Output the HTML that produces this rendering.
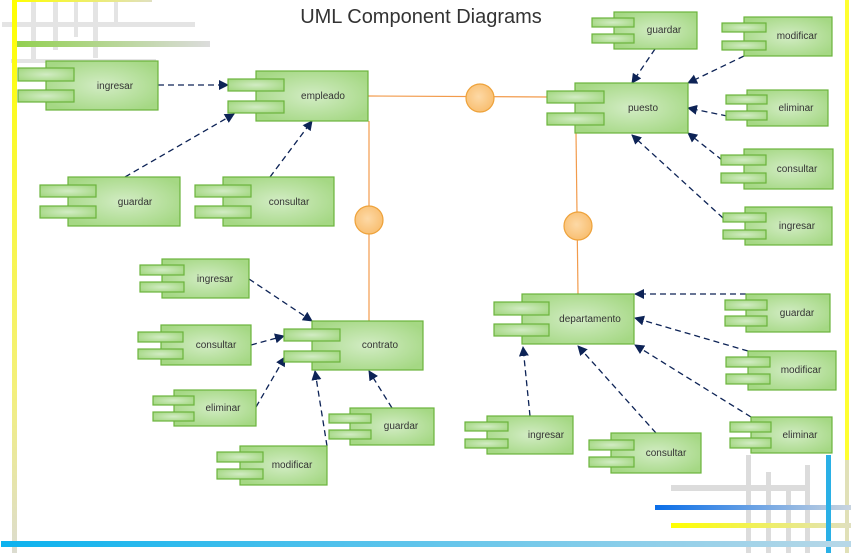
<!DOCTYPE html>
<html><head><meta charset="utf-8"><style>
html,body{margin:0;padding:0;background:#fff;}
svg{display:block;}
text{font-family:"Liberation Sans",sans-serif;}
</style></head><body>
<svg width="851" height="553" viewBox="0 0 851 553" xmlns="http://www.w3.org/2000/svg">
<defs>
<radialGradient id="g" cx="50%" cy="50%" r="60%">
<stop offset="0" stop-color="#d2ecc4"/><stop offset="1" stop-color="#a5d884"/></radialGradient>
<radialGradient id="o" cx="45%" cy="45%" r="60%">
<stop offset="0" stop-color="#fdd9a6"/><stop offset="1" stop-color="#f8bd6e"/></radialGradient>
<linearGradient id="yl" x1="0" y1="0" x2="0" y2="1"><stop offset="0" stop-color="#ffff00"/><stop offset="0.7" stop-color="#f4f07a"/><stop offset="1" stop-color="#dcdcd0"/></linearGradient>
<linearGradient id="bl" x1="0" y1="0" x2="1" y2="0"><stop offset="0" stop-color="#0cb2ee"/><stop offset="1" stop-color="#b8d8e8"/></linearGradient>
<linearGradient id="gr" x1="0" y1="0" x2="1" y2="0"><stop offset="0" stop-color="#92d050"/><stop offset="1" stop-color="#dcdcdc"/></linearGradient>
<linearGradient id="b2" x1="0" y1="0" x2="1" y2="0"><stop offset="0" stop-color="#0a6ee8"/><stop offset="1" stop-color="#c8d4e0"/></linearGradient>
<linearGradient id="y2" x1="0" y1="0" x2="1" y2="0"><stop offset="0" stop-color="#ffff00"/><stop offset="1" stop-color="#e0e0c0"/></linearGradient>
<marker id="a" markerWidth="10" markerHeight="10" refX="9" refY="5" orient="auto" markerUnits="userSpaceOnUse"><path d="M0,0 L10,5 L0,10 z" fill="#0d2356"/></marker>
</defs>
<!-- decorations top-left -->
<g fill="#e4e4e4">
<rect x="31" y="0" width="5" height="62"/><rect x="53" y="0" width="5" height="50"/><rect x="74" y="0" width="4" height="37"/><rect x="93" y="0" width="5" height="58"/><rect x="114" y="0" width="4" height="22"/>
<rect x="2" y="22" width="193" height="5"/><rect x="11" y="59" width="145" height="4"/>
</g>
<rect x="16" y="41" width="194" height="6" fill="url(#gr)"/>
<rect x="12" y="0" width="140" height="2" fill="url(#y2)"/>
<rect x="12" y="0" width="5" height="553" fill="url(#yl)"/>
<rect x="845" y="0" width="4" height="460" fill="#ffff30"/>
<rect x="845" y="460" width="4" height="93" fill="#e0e0b8"/>
<!-- bottom-right decorations -->
<g fill="#dcdcdc">
<rect x="746" y="455" width="5" height="98"/><rect x="766" y="472" width="5" height="81"/><rect x="786" y="486" width="5" height="67"/><rect x="805" y="465" width="5" height="88"/>
<rect x="671" y="485" width="135" height="6"/>
</g>
<rect x="655" y="505" width="196" height="5" fill="url(#b2)"/>
<rect x="671" y="523" width="180" height="5" fill="url(#y2)"/>
<rect x="826" y="455" width="5" height="98" fill="#2ab0e6"/>
<rect x="1" y="541" width="850" height="6" fill="url(#bl)"/>
<text x="421" y="23" font-size="20" fill="#333" text-anchor="middle">UML Component Diagrams</text>
<!-- orange connectors -->
<g stroke="#f29b4c" stroke-width="1.2" fill="none">
<line x1="368" y1="96" x2="548" y2="97"/>
<line x1="369" y1="121" x2="369" y2="321"/>
<line x1="576" y1="133" x2="578" y2="294"/>
</g>
<g fill="url(#o)" stroke="#eea23a" stroke-width="1.2">
<circle cx="480" cy="98" r="14"/><circle cx="369" cy="220" r="14"/><circle cx="578" cy="226" r="14"/>
</g>
<!-- arrows -->
<g stroke="#0d2356" stroke-width="1.3" stroke-dasharray="6,4" fill="none" marker-end="url(#a)">
<line x1="158" y1="85" x2="228" y2="85"/>
<line x1="125" y1="177" x2="234" y2="114"/>
<line x1="270" y1="177" x2="312" y2="121"/>
<line x1="655" y1="49" x2="632" y2="83"/>
<line x1="744" y1="56" x2="688" y2="83"/>
<line x1="727" y1="116" x2="688" y2="108"/>
<line x1="722" y1="160" x2="688" y2="133"/>
<line x1="723" y1="218" x2="632" y2="135"/>
<line x1="249" y1="279" x2="312" y2="321"/>
<line x1="251" y1="345" x2="284" y2="336"/>
<line x1="256" y1="407" x2="285" y2="357"/>
<line x1="327" y1="446" x2="315" y2="371"/>
<line x1="392" y1="408" x2="369" y2="371"/>
<line x1="746" y1="294" x2="635" y2="294"/>
<line x1="748" y1="351" x2="635" y2="318"/>
<line x1="751" y1="417" x2="635" y2="345"/>
<line x1="656" y1="433" x2="578" y2="346"/>
<line x1="530" y1="416" x2="523" y2="347"/>
</g>
<!-- components -->
<g fill="url(#g)" stroke="#6bb33c" stroke-width="1.2" font-size="10" >
<!-- empleado side -->
<rect x="46" y="61" width="112" height="49"/><rect x="18" y="68" width="56" height="13"/><rect x="18" y="90" width="56" height="12"/>
<rect x="256" y="71" width="112" height="50"/><rect x="228" y="79" width="56" height="12"/><rect x="228" y="101" width="56" height="12"/>
<rect x="68" y="177" width="112" height="49"/><rect x="40" y="185" width="56" height="12"/><rect x="40" y="206" width="56" height="12"/>
<rect x="223" y="177" width="111" height="49"/><rect x="195" y="185" width="56" height="12"/><rect x="195" y="206" width="56" height="12"/>
<!-- puesto side -->
<rect x="575" y="83" width="113" height="50"/><rect x="547" y="91" width="57" height="12"/><rect x="547" y="113" width="57" height="12"/>
<rect x="614" y="12" width="83" height="37"/><rect x="592" y="18" width="42" height="9"/><rect x="592" y="34" width="42" height="9"/>
<rect x="744" y="17" width="88" height="39"/><rect x="722" y="23" width="44" height="9"/><rect x="722" y="41" width="44" height="9"/>
<rect x="747" y="90" width="81" height="36"/><rect x="726" y="95" width="41" height="9"/><rect x="726" y="111" width="41" height="9"/>
<rect x="744" y="149" width="89" height="40"/><rect x="721" y="155" width="45" height="10"/><rect x="721" y="173" width="45" height="10"/>
<rect x="745" y="207" width="87" height="38"/><rect x="723" y="213" width="43" height="9"/><rect x="723" y="230" width="43" height="9"/>
<!-- contrato side -->
<rect x="312" y="321" width="111" height="49"/><rect x="284" y="329" width="56" height="12"/><rect x="284" y="351" width="56" height="11"/>
<rect x="162" y="259" width="87" height="39"/><rect x="140" y="265" width="44" height="10"/><rect x="140" y="282" width="44" height="10"/>
<rect x="161" y="325" width="90" height="40"/><rect x="138" y="332" width="45" height="10"/><rect x="138" y="349" width="45" height="10"/>
<rect x="174" y="390" width="82" height="36"/><rect x="153" y="396" width="41" height="9"/><rect x="153" y="412" width="41" height="9"/>
<rect x="350" y="408" width="84" height="37"/><rect x="329" y="414" width="42" height="9"/><rect x="329" y="430" width="42" height="9"/>
<rect x="240" y="446" width="87" height="39"/><rect x="217" y="452" width="46" height="10"/><rect x="217" y="469" width="46" height="10"/>
<!-- departamento side -->
<rect x="522" y="294" width="112" height="50"/><rect x="494" y="302" width="55" height="13"/><rect x="494" y="324" width="55" height="12"/>
<rect x="746" y="294" width="84" height="38"/><rect x="725" y="300" width="42" height="10"/><rect x="725" y="316" width="42" height="10"/>
<rect x="748" y="351" width="88" height="39"/><rect x="726" y="357" width="44" height="10"/><rect x="726" y="374" width="44" height="10"/>
<rect x="751" y="417" width="81" height="36"/><rect x="730" y="422" width="41" height="10"/><rect x="730" y="438" width="41" height="10"/>
<rect x="487" y="416" width="86" height="38"/><rect x="465" y="422" width="43" height="9"/><rect x="465" y="439" width="43" height="9"/>
<rect x="611" y="433" width="90" height="40"/><rect x="589" y="440" width="45" height="10"/><rect x="589" y="457" width="45" height="10"/>
</g>
<g font-size="10" fill="#333" text-anchor="middle">
<text x="115" y="89">ingresar</text>
<text x="323" y="99">empleado</text>
<text x="135" y="205">guardar</text>
<text x="289" y="205">consultar</text>
<text x="643" y="111">puesto</text>
<text x="664" y="33">guardar</text>
<text x="797" y="39">modificar</text>
<text x="796" y="111">eliminar</text>
<text x="797" y="172">consultar</text>
<text x="797" y="229">ingresar</text>
<text x="380" y="348">contrato</text>
<text x="215" y="282">ingresar</text>
<text x="216" y="348">consultar</text>
<text x="223" y="411">eliminar</text>
<text x="401" y="429">guardar</text>
<text x="292" y="468">modificar</text>
<text x="590" y="322">departamento</text>
<text x="797" y="316">guardar</text>
<text x="801" y="373">modificar</text>
<text x="800" y="438">eliminar</text>
<text x="546" y="438">ingresar</text>
<text x="666" y="456">consultar</text>
</g>
</svg>
</body></html>
